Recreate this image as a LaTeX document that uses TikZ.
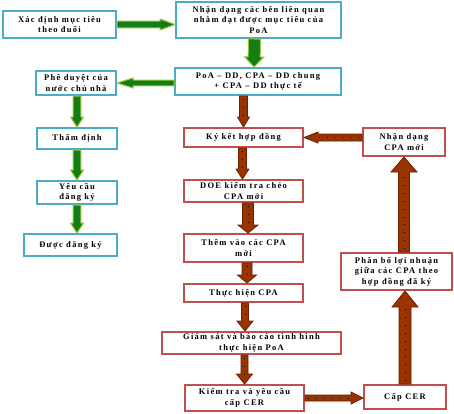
\documentclass[tikz,border=0pt]{standalone}
\usepackage{fontspec}
\setmainfont{Liberation Serif}[LetterSpace=15]
\usetikzlibrary{calc}
\definecolor{bborder}{RGB}{75,172,198}
\definecolor{rborder}{RGB}{192,80,77}
\definecolor{gfill}{RGB}{20,125,20}
\definecolor{gedge}{RGB}{150,200,60}
\definecolor{rfill}{RGB}{153,51,0}
\definecolor{redge}{RGB}{110,30,0}
\tikzset{
  boxbase/.style={rectangle, fill=white, line width=2pt, inner sep=1pt, align=center,
    font=\bfseries\fontsize{8.5}{10.5}\selectfont},
  bluebox/.style={boxbase, draw=bborder},
  redbox/.style={boxbase, draw=rborder},
  garrow/.style={fill=gfill, draw=gedge, line width=1pt, line join=miter},
  rarrow/.style={fill=rfill, draw=redge, line width=0.8pt, line join=miter},
  rdots/.style={draw=black, line width=0.9pt, dash pattern=on 0.9pt off 7pt},
}
% \bx{name}{x1}{y1}{x2}{y2}{style}{text}
\newcommand\bx[7]{%
  \node[#6, minimum width={#4-#2-2pt}, minimum height={#5-#3-2pt}] (#1)
    at ({(#2+#4)/2},{(#3+#5)/2}) {#7};}
% \barrow{style}{from}{to}{half shaft}{half head}{head length}
\newcommand\barrow[6]{%
  \coordinate (ba) at #2; \coordinate (bb) at #3;
  \coordinate (bc) at ($(bb)!#6!(ba)$);
  \draw[#1] ($(ba)!#4!90:(bb)$) -- ($(bc)!#4!90:(bb)$) -- ($(bc)!#5!90:(bb)$) -- (bb)
    -- ($(bc)!#5!-90:(bb)$) -- ($(bc)!#4!-90:(bb)$) -- ($(ba)!#4!-90:(bb)$) -- cycle;}
\newcommand\rbarrow[5]{%
  \barrow{rarrow}{#1}{#2}{#3}{#4}{#5}%
  \draw[rdots] ($(ba)!3pt!(bc)$) -- (bc);}
\begin{document}
\begin{tikzpicture}[x=1pt,y=-1pt]
\useasboundingbox (0,0) rectangle (454,413);
% blue boxes
\bx{b1}{2}{10}{117}{39}{bluebox}{Xác định mục tiêu\\theo đuổi}
\bx{b2}{175}{1}{342}{39}{bluebox}{Nhận dạng các bên liên quan\\nhằm đạt được mục tiêu của\\PoA}
\bx{b3}{174}{67}{342}{96}{bluebox}{PoA – DD, CPA – DD chung\\+ CPA – DD thực tế}
\bx{b4}{35}{70}{117}{96}{bluebox}{Phê duyệt của\\nước chủ nhà}
\bx{b5}{36}{127}{118}{150}{bluebox}{Thẩm định}
\bx{b6}{36}{180}{118}{205}{bluebox}{Yêu cầu\\đăng ký}
\bx{b7}{23}{233}{118}{257}{bluebox}{Được đăng ký}
% red boxes
\bx{r1}{183}{127}{304}{148}{redbox}{Ký kết hợp đồng}
\bx{r2}{362}{127}{446}{157}{redbox}{Nhận dạng\\CPA mới}
\bx{r3}{183}{179}{304}{203}{redbox}{DOE kiểm tra chéo\\CPA mới}
\bx{r4}{183}{233}{304}{263}{redbox}{Thêm vào các CPA\\mới}
\bx{r5}{183}{283}{304}{303}{redbox}{Thực hiện CPA}
\bx{r6}{340}{252}{453}{291}{redbox}{Phân bổ lợi nhuận\\giữa các CPA theo\\hợp đồng đã ký}
\bx{r7}{161}{331}{342}{355}{redbox}{Giám sát và báo cáo tình hình\\thực hiện PoA}
\bx{r8}{184}{384}{305}{412}{redbox}{Kiểm tra và yêu cầu\\cấp CER}
\bx{r9}{363}{384}{447}{410}{redbox}{Cấp CER}
% green arrows
\barrow{garrow}{(b1.east)}{(b1.east -| b2.west)}{3.3pt}{5.5pt}{15pt}
\barrow{garrow}{($(b2.south)+(-4,0)$)}{($(b3.north)+(-4,0)$)}{6pt}{9.5pt}{10pt}
\barrow{garrow}{(b4.east -| b3.west)}{(b4.east)}{2.8pt}{5pt}{16pt}
\barrow{garrow}{(b5.north |- b4.south)}{(b5.north)}{3.8pt}{6.5pt}{10pt}
\barrow{garrow}{(b5.south)}{(b6.north)}{3.8pt}{6.5pt}{10pt}
\barrow{garrow}{(b6.south)}{(b7.north -| b6.south)}{3.8pt}{6.5pt}{10pt}
% red arrows
\rbarrow{(r1.north |- b3.south)}{(r1.north)}{4pt}{6pt}{10pt}
\rbarrow{($(r1.south)+(-1,0)$)}{($(r3.north)+(-1,0)$)}{4pt}{6.5pt}{10pt}
\rbarrow{($(r3.south)+(4.5,0)$)}{($(r4.north)+(4.5,0)$)}{5.5pt}{10pt}{8pt}
\rbarrow{($(r4.south)+(3.5,0)$)}{($(r5.north)+(3.5,0)$)}{5pt}{9.5pt}{8pt}
\rbarrow{($(r5.south)+(1.5,0)$)}{($(r5.south |- r7.north)+(1.5,0)$)}{3.5pt}{8pt}{10pt}
\rbarrow{(r8.north |- r7.south)}{(r8.north)}{3.5pt}{8pt}{10pt}
\rbarrow{(r8.east)}{(r8.east -| r9.west)}{3pt}{6pt}{12pt}
\rbarrow{(r9.north)}{(r9.north |- r6.south)}{6pt}{13pt}{16pt}
\rbarrow{(r6.north -| r2.south)}{(r2.south)}{5.5pt}{13pt}{15pt}
\rbarrow{(r2.west |- r1.east)}{(r1.east)}{3.5pt}{5.5pt}{14pt}
\end{tikzpicture}
\end{document}
